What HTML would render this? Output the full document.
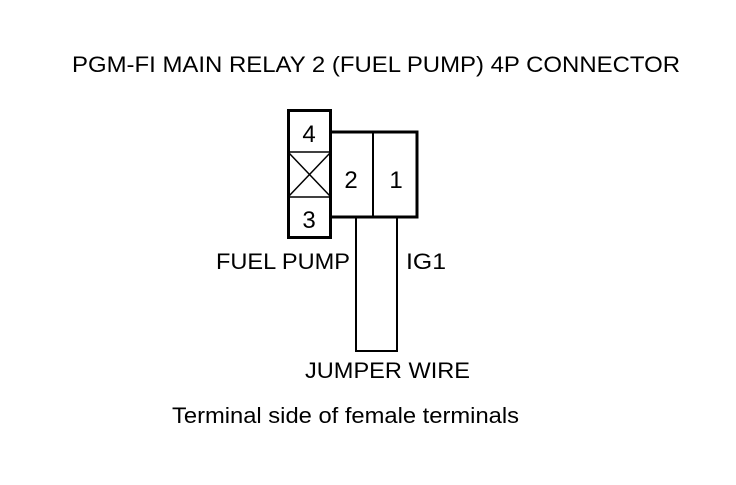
<!DOCTYPE html>
<html><head><style>body{margin:0;background:#fff}</style></head><body>
<svg width="736" height="480" viewBox="0 0 736 480" xmlns="http://www.w3.org/2000/svg" font-family="Liberation Sans, Arial, sans-serif" fill="#000">
<rect width="736" height="480" fill="#fff"/>
<text x="72" y="72" font-size="22" textLength="608" lengthAdjust="spacingAndGlyphs">PGM-FI MAIN RELAY 2 (FUEL PUMP) 4P CONNECTOR</text>
<g fill="none" stroke="#000">
<rect x="288.5" y="110.5" width="42" height="127" stroke-width="3"/>
<line x1="288" y1="152" x2="331" y2="152" stroke-width="1.5"/>
<line x1="288" y1="197" x2="331" y2="197" stroke-width="1.5"/>
<line x1="289" y1="153" x2="330" y2="196" stroke-width="1.5"/>
<line x1="330" y1="153" x2="289" y2="196" stroke-width="1.5"/>
<polyline points="331,132 417,132 417,217 331,217" stroke-width="3"/>
<line x1="373" y1="132" x2="373" y2="217" stroke-width="2"/>
<polyline points="356,217 356,351 397,351 397,217" stroke-width="2"/>
</g>
<text x="309" y="142" font-size="24" text-anchor="middle">4</text>
<text x="309" y="228" font-size="24" text-anchor="middle">3</text>
<text x="351" y="188" font-size="24" text-anchor="middle">2</text>
<text x="396" y="188" font-size="24" text-anchor="middle">1</text>
<text x="216" y="269" font-size="22" textLength="134" lengthAdjust="spacingAndGlyphs">FUEL PUMP</text>
<text x="406" y="269" font-size="22" textLength="40" lengthAdjust="spacingAndGlyphs">IG1</text>
<text x="305" y="378" font-size="22" textLength="165" lengthAdjust="spacingAndGlyphs">JUMPER WIRE</text>
<text x="172" y="423" font-size="22" textLength="347" lengthAdjust="spacingAndGlyphs">Terminal side of female terminals</text>
</svg>
</body></html>
